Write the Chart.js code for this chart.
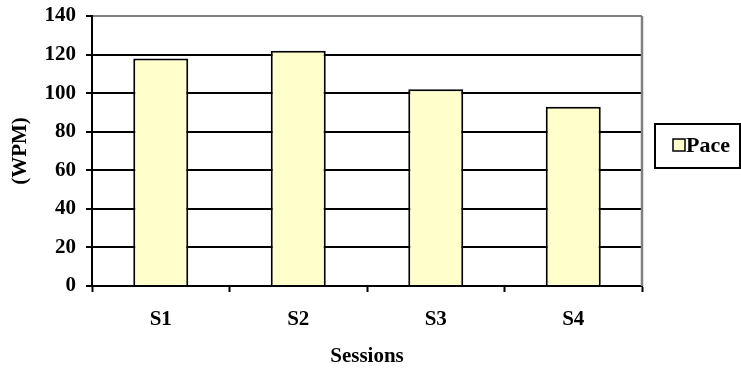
<!DOCTYPE html>
<html>
<head>
<meta charset="utf-8">
<script src="https://cdn.jsdelivr.net/npm/chart.js@4/dist/chart.umd.min.js"></script>
<style>
  html, body { margin: 0; padding: 0; background: #fff; }
  #wrap { width: 741px; height: 369px; }
</style>
</head>
<body>
<div id="wrap"><canvas id="c" width="741" height="369"></canvas></div>
<script>
// Reading pace per session, words per minute
const sessions = ['S1', 'S2', 'S3', 'S4'];
const pace = [118, 122, 102, 93];
const seriesName = 'Pace';
const yTicks = [0, 20, 40, 60, 80, 100, 120, 140];

const FONT = "'Liberation Serif', 'Times New Roman', serif";
const FSIZE = 21;

// Plot frame (gray right edge) and boxed legend on the right
const framePlugin = {
  id: 'frameAndLegend',
  afterDraw(chart) {
    const { ctx, chartArea: a } = chart;
    ctx.save();
    ctx.strokeStyle = '#808080';
    ctx.lineWidth = 2.5;
    ctx.beginPath();
    ctx.moveTo(a.right, a.top);
    ctx.lineTo(a.right, a.bottom);
    ctx.stroke();

    // legend box
    const ds = chart.data.datasets[0];
    const bx = 655, by = 124, bw = 85, bh = 44;
    ctx.strokeStyle = '#000';
    ctx.lineWidth = 2;
    ctx.strokeRect(bx, by, bw, bh);
    ctx.fillStyle = ds.backgroundColor;
    ctx.fillRect(673, 139, 12, 12);
    ctx.lineWidth = 1.5;
    ctx.strokeRect(673, 139, 12, 12);
    ctx.fillStyle = '#000';
    ctx.font = 'bold 22px ' + FONT;
    ctx.textBaseline = 'middle';
    ctx.textAlign = 'left';
    ctx.fillText(ds.label, 686, 146);
    ctx.restore();
  }
};

new Chart(document.getElementById('c'), {
  type: 'bar',
  data: {
    labels: sessions,
    datasets: [{
      label: seriesName,
      data: pace,
      backgroundColor: '#FFFFCC',
      borderColor: '#000000',
      borderWidth: 2,
      borderSkipped: 'bottom',
      barPercentage: 0.4,
      categoryPercentage: 1.0
    }]
  },
  options: {
    responsive: false,
    animation: false,
    devicePixelRatio: 1,
    layout: { padding: { top: 16, right: 99, bottom: 0, left: 0 } },
    plugins: {
      legend: { display: false },
      tooltip: { enabled: false }
    },
    scales: {
      x: {
        offset: true,
        afterFit(scale) {
          scale.height = 83;
          scale.paddingLeft = 0;
          scale.paddingRight = 0;
        },
        grid: {
          offset: true,
          drawOnChartArea: false,
          drawTicks: true,
          tickLength: 6,
          tickWidth: 2,
          tickColor: '#000'
        },
        border: { display: true, color: '#000', width: 2 },
        ticks: {
          color: '#000',
          padding: 15,
          font: { family: FONT, size: FSIZE, weight: 'bold' }
        },
        title: {
          display: true,
          text: 'Sessions',
          color: '#000',
          padding: { top: 0, bottom: 0 },
          font: { family: FONT, size: FSIZE, weight: 'bold' }
        }
      },
      y: {
        min: 0,
        max: 140,
        afterFit(scale) {
          scale.width = 92;
          scale.paddingTop = 0;
          scale.paddingBottom = 0;
        },
        afterBuildTicks(scale) { scale.ticks = yTicks.map(v => ({ value: v })); },
        grid: {
          color: ctx => (ctx.tick && ctx.tick.value === 140) ? '#808080' : '#000',
          lineWidth: 2,
          tickLength: 6,
          tickColor: '#000',
          tickWidth: 2
        },
        border: { display: true, color: '#000', width: 2 },
        ticks: {
          color: '#000',
          padding: 10,
          font: { family: FONT, size: FSIZE, weight: 'bold' }
        },
        title: {
          display: true,
          text: '(WPM)',
          color: '#000',
          padding: { top: 8, bottom: 0 },
          font: { family: FONT, size: FSIZE, weight: 'bold' }
        }
      }
    }
  },
  plugins: [framePlugin]
});
</script>
</body>
</html>
